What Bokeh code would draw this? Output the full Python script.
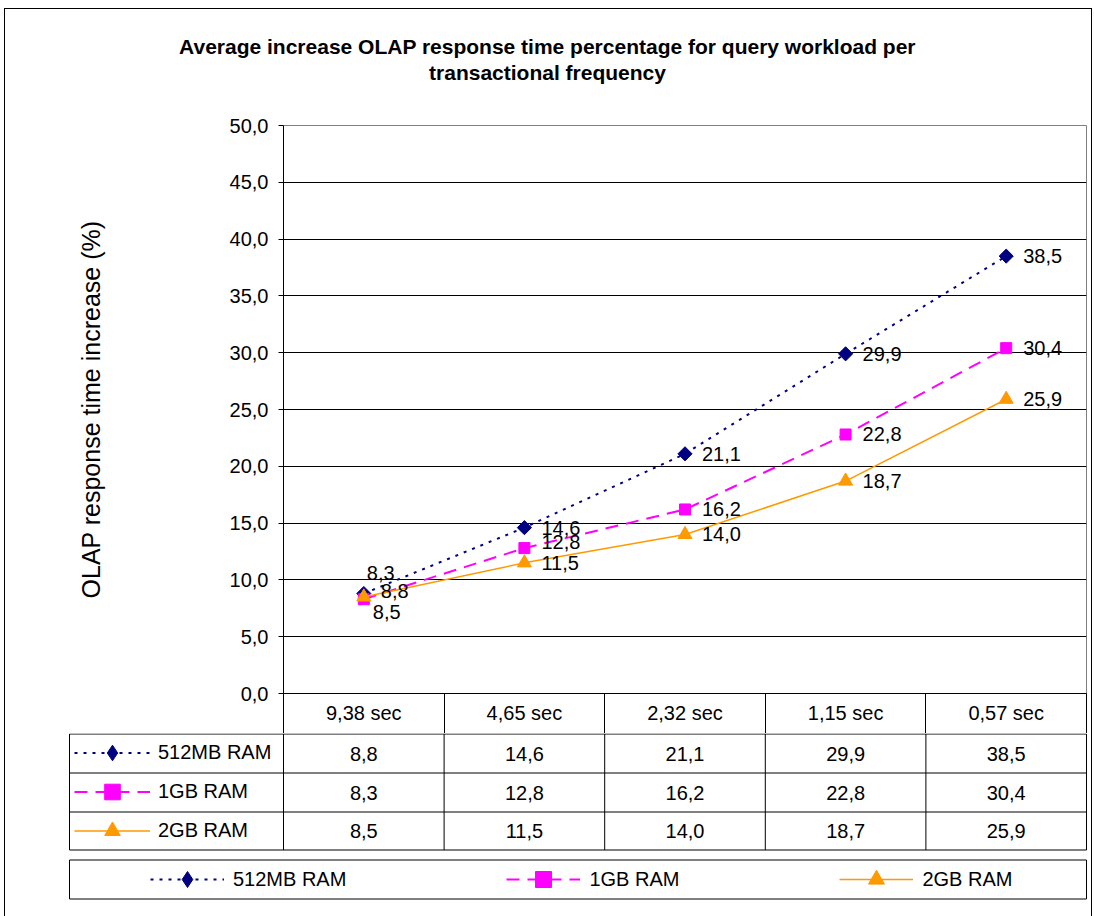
import numpy as np
from bokeh.plotting import figure
from bokeh.layouts import column
from bokeh.models import (ColumnDataSource, Range1d, FixedTicker, Title, LinearAxis,
                          Legend, LegendItem, InlineStyleSheet)
from bokeh.core.properties import value
from bokeh.embed import file_html
from bokeh.resources import INLINE

# ---------------- data ----------------
categories = ["9,38 sec", "4,65 sec", "2,32 sec", "1,15 sec", "0,57 sec"]
series_names = ["512MB RAM", "1GB RAM", "2GB RAM"]
ram_512mb = [8.8, 14.6, 21.1, 29.9, 38.5]
ram_1gb = [8.3, 12.8, 16.2, 22.8, 30.4]
ram_2gb = [8.5, 11.5, 14.0, 18.7, 25.9]
y_ticks = [0, 5, 10, 15, 20, 25, 30, 35, 40, 45, 50]
y_tick_labels = ["0,0", "5,0", "10,0", "15,0", "20,0", "25,0", "30,0", "35,0", "40,0", "45,0", "50,0"]
title_lines = ["Average increase OLAP response time percentage for query workload per",
               "transactional frequency"]
y_axis_title = "OLAP response time increase (%)"

series_values = [ram_512mb, ram_1gb, ram_2gb]


def fmt(v):
    return f"{v:.1f}".replace(".", ",")


# ---------------- styles / layout ----------------
FONT = "Liberation Sans"
FS = "20px"
W = 1094
PL, PR = 283, 1086          # chart frame left / right (px)
T_H, A_H, B_H = 95, 638, 183
n = len(categories)
col_w = (PR - PL) / float(n)
centers = [i + 0.5 for i in range(n)]     # category slot centres on a column-index axis

styles = [
    dict(color="#000080", dash="3 6", lw=2, marker="square", angle=np.pi / 4, size=10,
         legend_marker="diamond"),
    dict(color="#FF00FF", dash="13 8", lw=2, marker="square", angle=0.0, size=11,
         legend_marker="square"),
    dict(color="#FF9900", dash="solid", lw=1.5, marker="triangle", angle=0.0, size=14,
         legend_marker="triangle"),
]
# data-label offsets (px)
label_dx = [[17, 17, 17, 17, 17], [3, 17, 17, 17, 17], [9, 17, 17, 17, 17]]
label_dy = [[-3, 0, 0, 0, 0], [-26, -6, 0, 0, 0], [15, 0, 0, 0, 0]]

# ---------------- title figure ----------------
T = figure(width=W, height=T_H, x_axis_location=None, y_axis_location=None,
           toolbar_location=None, output_backend="svg", frame_align=False,
           min_border_left=0, min_border_right=0, min_border_top=84, min_border_bottom=0,
           outline_line_color=None)
T.grid.visible = False
for line in reversed(title_lines):      # first added sits closest to the frame
    T.add_layout(Title(text=line, align="center", text_font=FONT, text_font_size="21px",
                       text_font_style="bold", text_color="black", standoff=1), "above")

# ---------------- chart figure ----------------
A = figure(width=W, height=A_H, x_range=Range1d(0, n), y_range=Range1d(0, 50),
           x_axis_location=None, output_backend="svg", toolbar_location=None, frame_align=False,
           min_border_left=PL, min_border_right=W - PR, min_border_top=125 - T_H,
           min_border_bottom=40)
A.outline_line_color = "#808080"
A.xgrid.visible = False
A.ygrid.ticker = FixedTicker(ticks=y_ticks[1:-1])
A.ygrid.grid_line_color = "black"
A.ygrid.grid_line_width = 1

yax = A.yaxis[0]
yax.ticker = FixedTicker(ticks=y_ticks)
yax.major_label_overrides = {t: l for t, l in zip(y_ticks, y_tick_labels)}
yax.minor_tick_line_color = None
yax.major_tick_in = 0
yax.major_tick_out = 5
yax.major_tick_line_color = "black"
yax.axis_line_color = "black"
yax.major_label_text_font = FONT
yax.major_label_text_font_size = FS
yax.major_label_text_color = "black"
yax.major_label_standoff = 10
yax.axis_label = y_axis_title
yax.axis_label_text_font = FONT
yax.axis_label_text_font_size = "25px"
yax.axis_label_text_font_style = "normal"
yax.axis_label_text_color = "black"
yax.axis_label_standoff = 122

# category axis = header row of the data table (minor ticks draw the cell dividers)
xax = LinearAxis(ticker=FixedTicker(ticks=centers, minor_ticks=list(range(n + 1))),
                 major_label_overrides={c: lab for c, lab in zip(centers, categories)},
                 major_tick_out=0, major_tick_in=0, minor_tick_in=0, minor_tick_out=40,
                 minor_tick_line_color="black", axis_line_color="black",
                 major_label_text_font=FONT, major_label_text_font_size=FS,
                 major_label_text_color="black", major_label_standoff=-32)
A.add_layout(xax, "below")

for vals, st in zip(series_values, styles):
    src = ColumnDataSource(dict(x=centers, y=vals))
    A.line("x", "y", source=src, line_color=st["color"], line_width=st["lw"], line_dash=st["dash"])
    A.scatter("x", "y", source=src, marker=st["marker"], angle=st["angle"], size=st["size"],
              fill_color=st["color"], line_color=st["color"])
for vals, st, dx, dy in zip(series_values, styles, label_dx, label_dy):
    src = ColumnDataSource(dict(x=centers, y=vals, lbl=[fmt(v) for v in vals], dx=dx, dy=dy))
    A.text("x", "y", text="lbl", source=src, x_offset="dx", y_offset="dy",
           text_font=value(FONT), text_font_size=FS, text_color="black",
           text_align="left", text_baseline="middle")

# ---------------- data table rows + legend figure ----------------
B = figure(width=W, height=B_H, x_range=Range1d(-PL / col_w, (W - PL) / col_w),
           y_range=Range1d(B_H, 0), x_axis_location=None, y_axis_location=None,
           toolbar_location=None, output_backend="svg", frame_align=False,
           min_border_left=0, min_border_right=0, min_border_top=0, min_border_bottom=0,
           outline_line_color=None)
B.grid.visible = False

row_edges = [0.5, 39.5, 78.5, 116.5]
legend_box = (126.5, 165.5)
tl = -(PL - 69) / col_w          # table left edge in column units

hx0 = [tl] * len(row_edges)
hx1 = [n] * len(row_edges)
vx = [tl] + list(range(n + 1))
vy0 = [row_edges[0]] * (n + 2)
vy1 = [row_edges[-1]] * (n + 2)
B.segment(x0=hx0, y0=row_edges, x1=hx1, y1=row_edges, line_color="black", line_width=1)
B.segment(x0=vx, y0=vy0, x1=vx, y1=vy1, line_color="black", line_width=1)
B.quad(left=[tl], right=[n], top=[legend_box[0]], bottom=[legend_box[1]],
       fill_alpha=0, line_color="black", line_width=1)

for r, vals in enumerate(series_values):
    ymid = (row_edges[r] + row_edges[r + 1]) / 2
    B.text(x=centers, y=[ymid] * n, text=[fmt(v) for v in vals],
           text_font=value(FONT), text_font_size=FS, text_color="black",
           text_align="center", text_baseline="middle")

items1, items2 = [], []
for name, st in zip(series_names, styles):
    proxy = ColumnDataSource(dict(x=[np.nan], y=[np.nan]))
    lr = B.line("x", "y", source=proxy, line_color=st["color"], line_width=st["lw"],
                line_dash=st["dash"])
    sr = B.scatter("x", "y", source=proxy, marker=st["legend_marker"], size=st["size"],
                   fill_color=st["color"], line_color=st["color"])
    items1.append(LegendItem(label=name, renderers=[lr, sr]))
    items2.append(LegendItem(label=name, renderers=[lr, sr]))

common = dict(padding=0, margin=0, border_line_alpha=0, background_fill_alpha=0,
              label_text_font=FONT, label_text_font_size=FS, label_text_color="black")
leg1 = Legend(items=items1, location=(74, B_H - 117), orientation="vertical",
              glyph_width=76, glyph_height=39, label_height=39, label_standoff=8, spacing=0,
              **common)
leg2 = Legend(items=items2, location=(150, B_H - 166), orientation="horizontal",
              glyph_width=74, glyph_height=40, label_height=40, label_standoff=9, spacing=160,
              **common)
B.add_layout(leg1)
B.add_layout(leg2)

border_css = InlineStyleSheet(css="""
:host { position: relative; }
:host::after { content: ""; position: absolute; left: 4px; top: 8px; width: 1088px; height: 908px;
  border: 1px solid #000; border-bottom: none; box-sizing: border-box; pointer-events: none; z-index: 5; }
""")

layout = column(T, A, B, stylesheets=[border_css])

open("out.html", "w").write(file_html(layout, INLINE))
